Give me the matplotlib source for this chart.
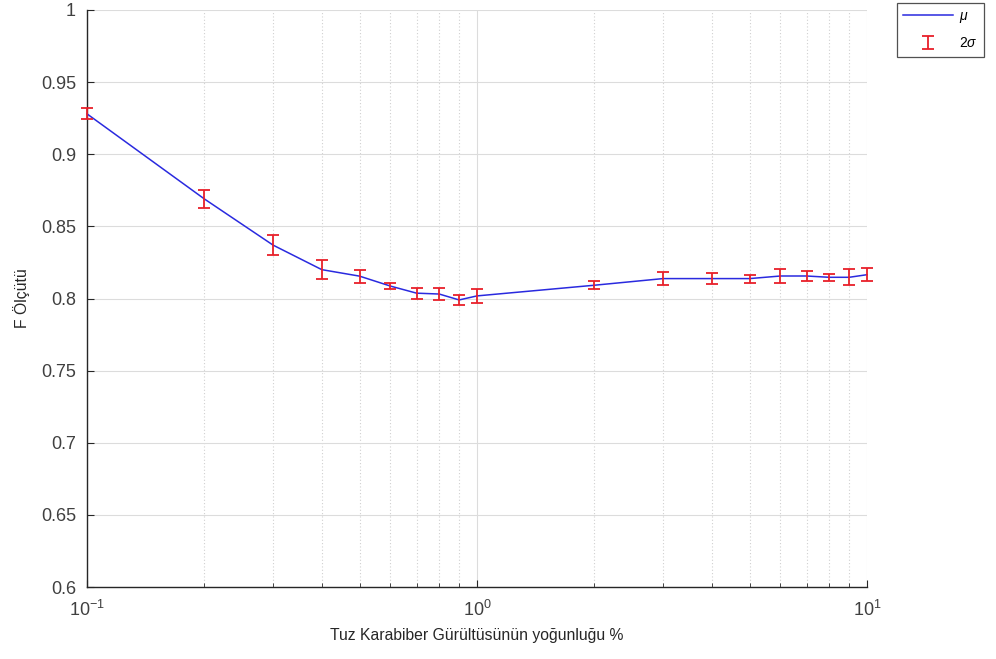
import matplotlib.pyplot as plt
from matplotlib.ticker import FixedLocator, NullFormatter

plt.rcParams["font.family"] = ["Liberation Sans", "DejaVu Sans"]
plt.rcParams["mathtext.fontset"] = "custom"
plt.rcParams["mathtext.rm"] = "Liberation Sans"
plt.rcParams["mathtext.it"] = "Liberation Sans:italic"

# noise density (%) and F-measure mean / 2-sigma half-width
density = [0.1, 0.2, 0.3, 0.4, 0.5, 0.6, 0.7, 0.8, 0.9, 1.0,
           2, 3, 4, 5, 6, 7, 8, 9, 10]
f_mean = [0.928, 0.869, 0.837, 0.820, 0.8155, 0.8086, 0.8037, 0.8031, 0.799, 0.8018,
          0.8092, 0.8138, 0.8138, 0.8138, 0.8156, 0.8156, 0.8147, 0.8147, 0.8165]
f_2sigma = [0.0038, 0.006, 0.007, 0.0064, 0.0046, 0.002, 0.0039, 0.0039, 0.0032, 0.0048,
            0.0028, 0.0043, 0.004, 0.0028, 0.0046, 0.0032, 0.0023, 0.0055, 0.0044]

fig = plt.figure(figsize=(9.96, 6.59), dpi=100)
ax = fig.add_axes([87 / 996, 1 - 587 / 659, (867 - 87) / 996, (587 - 10) / 659])

line, = ax.plot(density, f_mean, color="#2a2adf", lw=1.1, zorder=3, clip_on=False)
eb = ax.errorbar(density, f_mean, yerr=f_2sigma, fmt="none", ecolor="#e8202a",
                 elinewidth=1.3, capsize=4, capthick=1.3, zorder=4)
for art in eb.lines[1] + eb.lines[2]:
    art.set_clip_on(False)

ax.set_xscale("log")
ax.set_xlim(0.1, 10)
ax.set_ylim(0.6, 1.0)
ax.set_yticks([0.6 + 0.05 * i for i in range(9)])
ax.set_yticklabels(["0.6", "0.65", "0.7", "0.75", "0.8", "0.85", "0.9", "0.95", "1"])
ax.set_xticks([0.1, 1, 10])
ax.set_xticklabels([r"$10^{-1}$", r"$10^{0}$", r"$10^{1}$"])
ax.xaxis.set_minor_locator(FixedLocator([m * 10.0 ** e for e in (-1, 0) for m in range(2, 10)]))
ax.xaxis.set_minor_formatter(NullFormatter())

ax.grid(True, which="major", color="#dcdcdc", lw=0.8, ls="-")
ax.grid(True, which="minor", axis="x", color="#d0d0d0", lw=0.8, ls=(0, (1, 2)))
ax.set_axisbelow(True)

for side in ("top", "right"):
    ax.spines[side].set_visible(False)
for side in ("left", "bottom"):
    ax.spines[side].set_color("#262626")
    ax.spines[side].set_linewidth(1.0)

ax.tick_params(which="both", direction="in", colors="#262626", labelcolor="#404040", labelsize=13)
ax.tick_params(which="major", length=5)
ax.tick_params(which="minor", length=3)
ax.tick_params(axis="y", pad=8)
ax.tick_params(axis="x", pad=9)

ax.set_xlabel("Tuz Karabiber Gürültüsünün yoğunluğu %", fontsize=11.3, color="#262626", labelpad=6)
ax.set_ylabel("F Ölçütü", fontsize=11.3, color="#262626", labelpad=8)

leg = fig.legend([line, eb], [r"$\mu$", r"$2\sigma$"], loc="upper left",
                 bbox_to_anchor=(897 / 996, 1 - 3 / 659), borderaxespad=0, fontsize=10,
                 frameon=True, fancybox=False, edgecolor="#262626",
                 handlelength=3.6, borderpad=0.45, labelspacing=0.8, handletextpad=0.4)
leg.get_frame().set_linewidth(0.9)

fig.savefig("out.png", dpi=100)
